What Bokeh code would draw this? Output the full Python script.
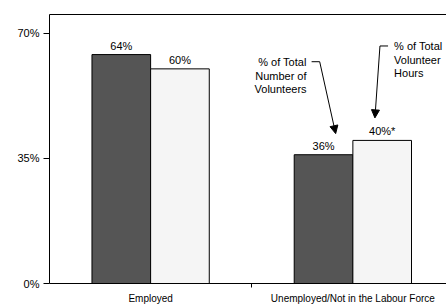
from bokeh.plotting import figure
from bokeh.models import (ColumnDataSource, FixedTicker, Range1d, Arrow, NormalHead, LabelSet,
                          LinearAxis)
from bokeh.core.properties import value
from bokeh.embed import file_html
from bokeh.resources import INLINE

categories = ["Employed", "Unemployed/Not in the Labour Force"]
pct_volunteers = [64, 36]
pct_hours = [60, 40]
hours_labels = ["60%", "40%*"]
volunteer_labels = ["64%", "36%"]
y_ticks = [0, 35, 70]
y_tick_labels = ["0%", "35%", "70%"]

FONT = "Liberation Sans"
off = 0.145
bw = 0.29
xs = list(range(len(categories)))

p = figure(width=446, height=306, output_backend="svg", toolbar_location=None,
           x_range=Range1d(-0.5, 1.463), y_range=Range1d(0, 75.2),
           min_border_left=49, min_border_right=0, min_border_top=14, min_border_bottom=21)
p.background_fill_color = "white"
p.border_fill_color = "white"
p.outline_line_color = None
p.xgrid.visible = False
p.ygrid.visible = False

dark = ColumnDataSource(dict(x=[x - off for x in xs], top=pct_volunteers, lab=volunteer_labels))
light = ColumnDataSource(dict(x=[x + off for x in xs], top=pct_hours, lab=hours_labels))

p.vbar(x="x", top="top", width=bw, source=dark, fill_color="#555555", line_color="black", line_width=1)
p.vbar(x="x", top="top", width=bw, source=light, fill_color="#f5f5f5", line_color="black", line_width=1)

for src in (dark, light):
    p.add_layout(LabelSet(x="x", y="top", text="lab", source=src, text_align="center",
                          text_baseline="alphabetic", y_offset=5, text_font=value(FONT),
                          text_font_size="11px", text_color="black"))

# y axis
yax = p.left[0]
yax.ticker = FixedTicker(ticks=y_ticks, minor_ticks=[])
yax.major_label_overrides = {t: l for t, l in zip(y_ticks, y_tick_labels)}
yax.major_label_text_font = FONT
yax.major_label_text_font_size = "11px"
yax.major_label_text_color = "black"
yax.major_tick_out = 6
yax.major_tick_in = 0
yax.minor_tick_line_color = None
yax.axis_line_color = "black"
yax.major_label_standoff = 4

# x axis
xax = p.below[0]
xax.ticker = FixedTicker(ticks=xs, minor_ticks=[0.5])
xax.major_label_overrides = {i: c for i, c in enumerate(categories)}
xax.major_label_text_font = FONT
xax.major_label_text_font_size = "10px"
xax.major_label_text_color = "black"
xax.major_tick_line_color = None
xax.major_tick_out = 0
xax.major_tick_in = 0
xax.minor_tick_out = 4
xax.minor_tick_in = 0
xax.minor_tick_line_color = "black"
xax.axis_line_color = "black"
xax.major_label_standoff = 5

# top frame line (no right border, as the chart continues past the edge)
top_axis = LinearAxis(ticker=FixedTicker(ticks=[], minor_ticks=[]),
                      major_tick_line_color=None, minor_tick_line_color=None,
                      axis_line_color="black", major_label_standoff=0,
                      major_tick_out=0, major_tick_in=0, minor_tick_out=0, minor_tick_in=0)
p.add_layout(top_axis, "above")

# callouts for the second category
c = xs[1]
vd = pct_volunteers[1]
vh = pct_hours[1]
note_src = ColumnDataSource(dict(
    x=[c - 0.229, c + 0.204],
    y=[vd + 22.1, vh + 22.6],
    t=["% of Total\nNumber of\nVolunteers", "% of Total\nVolunteer\nHours"],
    a=["right", "left"],
))
p.text(x="x", y="y", text="t", source=note_src, text_align="a", text_baseline="middle",
       text_font=value(FONT), text_font_size="11px", text_color="black", text_line_height=1.15)

seg = ColumnDataSource(dict(x0=[c - 0.204, c + 0.174], y0=[vd + 26.0, vh + 26.4],
                            x1=[c - 0.164, c + 0.134], y1=[vd + 26.0, vh + 26.4]))
p.segment(x0="x0", y0="y0", x1="x1", y1="y1", source=seg, line_color="black", line_width=1)

p.add_layout(Arrow(x_start=c - 0.164, y_start=vd + 26.0, x_end=c - 0.085, y_end=vd + 5.9,
                   line_color="black", line_width=1,
                   end=NormalHead(size=8, fill_color="black", line_color="black")))
p.add_layout(Arrow(x_start=c + 0.134, y_start=vh + 26.4, x_end=c + 0.109, y_end=vh + 6.3,
                   line_color="black", line_width=1,
                   end=NormalHead(size=8, fill_color="black", line_color="black")))

open("out.html", "w").write(file_html(p, INLINE))
